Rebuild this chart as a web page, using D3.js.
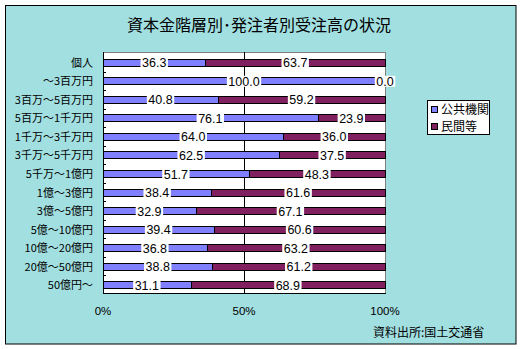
<!DOCTYPE html>
<html>
<head>
<meta charset="utf-8">
<script src="https://cdn.jsdelivr.net/npm/d3@7"></script>
<style>
  html, body { margin: 0; padding: 0; background: #ffffff; }
  svg { display: block; }
  text { font-family: "Noto Sans CJK JP", "Noto Sans", sans-serif; fill: #000; }
  .num { font-family: "Liberation Sans Narrow", "Liberation Sans", Arial, sans-serif; }
</style>
</head>
<body>
<svg id="chart" width="521" height="349"></svg>
<script>
// 資本金階層別・発注者別受注高の状況 (%)
const categories = [
  "個人", "～3百万円", "3百万～5百万円", "5百万～1千万円", "1千万～3千万円",
  "3千万～5千万円", "5千万～1億円", "1億～3億円", "3億～5億円", "5億～10億円",
  "10億～20億円", "20億～50億円", "50億円～"
];
const seriesNames = ["公共機関", "民間等"];
const publicShare  = [36.3, 100.0, 40.8, 76.1, 64.0, 62.5, 51.7, 38.4, 32.9, 39.4, 36.8, 38.8, 31.1];
const privateShare = [63.7,   0.0, 59.2, 23.9, 36.0, 37.5, 48.3, 61.6, 67.1, 60.6, 63.2, 61.2, 68.9];
const xTicks = [0, 50, 100];
const colors = ["#8080ff", "#80205f"];

const rows = categories.map((c, i) => ({ cat: c, "公共機関": publicShare[i], "民間等": privateShare[i] }));
const stacked = d3.stack().keys(seriesNames)(rows);

const svg = d3.select("#chart");

// chart area
svg.append("rect")
  .attr("x", 5.5).attr("y", 5.5).attr("width", 510.5).attr("height", 338.5)
  .attr("fill", "#a2dfe0").attr("stroke", "#000").attr("stroke-width", 1);

// title
svg.append("text")
  .attr("x", 259).attr("y", 31)
  .attr("text-anchor", "middle")
  .style("font-size", "16px")
  .text("資本金階層別･発注者別受注高の状況");

const plot = { left: 103, right: 385, top: 52, bottom: 293 };

const x = d3.scaleLinear().domain([0, 100]).range([plot.left, plot.right]);
const y = d3.scaleBand().domain(categories).range([53, 294]).paddingInner(0.62).paddingOuter(0.31);

// plot background
svg.append("rect")
  .attr("x", plot.left + 0.5).attr("y", plot.top + 0.5)
  .attr("width", plot.right - plot.left).attr("height", plot.bottom - plot.top)
  .attr("fill", "#ffffff").attr("stroke", "#808080").attr("stroke-width", 1);

// 50% gridline
svg.append("g")
  .selectAll("line")
  .data(xTicks.filter(t => t > 0 && t < 100))
  .join("line")
  .attr("x1", d => Math.round(x(d)) + 0.5).attr("x2", d => Math.round(x(d)) + 0.5)
  .attr("y1", plot.top).attr("y2", plot.bottom)
  .attr("stroke", "#000");

// bars
const layer = svg.append("g")
  .selectAll("g")
  .data(stacked)
  .join("g")
  .attr("fill", (d, i) => colors[i]);

layer.selectAll("rect")
  .data(d => d.map(v => ({ v, cat: v.data.cat })))
  .join("rect")
  .attr("x", d => Math.round(x(d.v[0])) + 0.5)
  .attr("y", d => Math.round(y(d.cat)) + 0.5)
  .attr("width", d => Math.round(x(d.v[1])) - Math.round(x(d.v[0])))
  .attr("height", Math.round(y.bandwidth()))
  .attr("stroke", "#000").attr("stroke-width", 1);

// value labels with white boxes
const labels = svg.append("g").attr("class", "num");
stacked.forEach((s, si) => {
  s.forEach(v => {
    const cx = x((v[0] + v[1]) / 2);
    const cy = y(v.data.cat) + y.bandwidth() / 2 + 0.5;
    const g = labels.append("g");
    const t = g.append("text")
      .attr("class", "num")
      .attr("x", cx).attr("y", cy + 4.5)
      .attr("text-anchor", "middle")
      .style("font-size", "12.5px")
      .text(d3.format(".1f")(v.data[s.key]));
    const bb = t.node().getBBox();
    g.insert("rect", "text")
      .attr("x", bb.x - 1.5).attr("y", cy - 5.5)
      .attr("width", bb.width + 3).attr("height", 11)
      .attr("fill", "#ffffff");
  });
});

// category axis
svg.append("line")
  .attr("x1", plot.left + 0.5).attr("x2", plot.left + 0.5)
  .attr("y1", plot.top).attr("y2", plot.bottom + 1)
  .attr("stroke", "#000");
svg.append("line")
  .attr("x1", plot.left).attr("x2", plot.right + 1)
  .attr("y1", plot.bottom + 0.5).attr("y2", plot.bottom + 0.5)
  .attr("stroke", "#000");

const step = y.step();
svg.append("g")
  .selectAll("line")
  .data(categories.slice(1))
  .join("line")
  .attr("x1", plot.left).attr("x2", plot.left + 3)
  .attr("y1", d => Math.round(y(d) - step * y.paddingInner() / 2) + 0.5)
  .attr("y2", d => Math.round(y(d) - step * y.paddingInner() / 2) + 0.5)
  .attr("stroke", "#000");

svg.append("g")
  .selectAll("text")
  .data(categories)
  .join("text")
  .attr("x", 93)
  .attr("y", d => y(d) + y.bandwidth() / 2 + 4.5)
  .attr("text-anchor", "end")
  .style("font-size", "11px")
  .text(d => d);

// value axis labels
svg.append("g")
  .selectAll("text")
  .data(xTicks)
  .join("text")
  .attr("class", "num")
  .attr("x", d => x(d))
  .attr("y", 315)
  .attr("text-anchor", "middle")
  .style("font-size", "11.5px")
  .text(d => d + "%");

// legend
const legend = svg.append("g");
legend.append("rect")
  .attr("x", 427.5).attr("y", 100.5).attr("width", 62).attr("height", 34)
  .attr("fill", "#ffffff").attr("stroke", "#000");
seriesNames.forEach((name, i) => {
  legend.append("rect")
    .attr("x", 431.5).attr("y", 106.5 + i * 17).attr("width", 6).attr("height", 6)
    .attr("fill", colors[i]).attr("stroke", "#000");
  legend.append("text")
    .attr("x", 441).attr("y", 114 + i * 17)
    .style("font-size", "12px")
    .text(name);
});

// source note
svg.append("text")
  .attr("x", 373).attr("y", 337)
  .style("font-size", "12px")
  .text("資料出所:国土交通省");
</script>
</body>
</html>
